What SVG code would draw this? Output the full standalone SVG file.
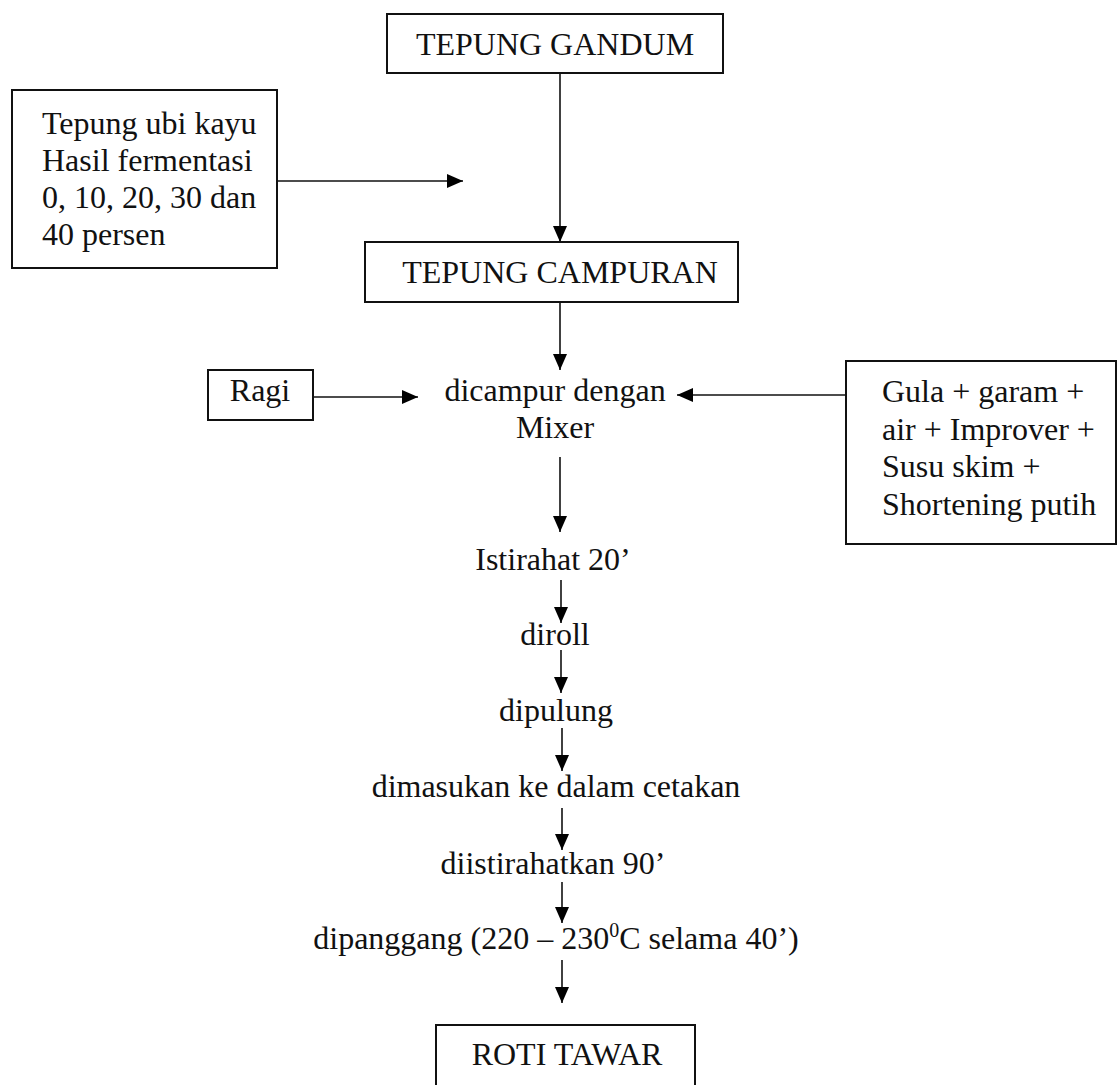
<svg xmlns="http://www.w3.org/2000/svg" width="1117" height="1085" viewBox="0 0 1117 1085">
<defs>
<marker id="ah" markerWidth="16" markerHeight="14" refX="16" refY="7" orient="auto" markerUnits="userSpaceOnUse" viewBox="0 0 16 14">
<path d="M0,0 L16,7 L0,14 z" fill="#000"/>
</marker>
<style>
text{font-size:32px;fill:#111}
.c{text-anchor:middle}
.box{fill:#fff;stroke:#111;stroke-width:2}
.ln{stroke:#111;stroke-width:1.6;fill:none}
</style>
</defs>
<rect width="1117" height="1085" fill="#fff"/>
<g id="connectors">
<line class="ln" x1="560" y1="73" x2="560" y2="242" marker-end="url(#ah)"/>
<line class="ln" x1="277" y1="181" x2="463" y2="181" marker-end="url(#ah)"/>
<line class="ln" x1="560" y1="302" x2="560" y2="370" marker-end="url(#ah)"/>
<line class="ln" x1="313" y1="397" x2="418" y2="397" marker-end="url(#ah)"/>
<line class="ln" x1="846" y1="395" x2="677" y2="395" marker-end="url(#ah)"/>
<line class="ln" x1="560" y1="457" x2="560" y2="532" marker-end="url(#ah)"/>
<line class="ln" x1="561" y1="580" x2="561" y2="623" marker-end="url(#ah)"/>
<line class="ln" x1="561" y1="650" x2="561" y2="693" marker-end="url(#ah)"/>
<line class="ln" x1="562" y1="728" x2="562" y2="771" marker-end="url(#ah)"/>
<line class="ln" x1="562" y1="808" x2="562" y2="850" marker-end="url(#ah)"/>
<line class="ln" x1="562" y1="882" x2="562" y2="923" marker-end="url(#ah)"/>
<line class="ln" x1="562" y1="960" x2="562" y2="1003" marker-end="url(#ah)"/>
</g>
<g font-family="'Liberation Serif', 'Times New Roman', Tinos, 'DejaVu Serif', serif">
<g id="tepung-gandum">
<rect class="box" x="387" y="14" width="336" height="59"/>
<text class="c" x="555" y="55">TEPUNG GANDUM</text>
</g>
<g id="tepung-ubi-kayu">
<rect class="box" x="12" y="90" width="265" height="178"/>
<text x="42" y="134">Tepung ubi kayu</text>
<text x="42" y="171">Hasil fermentasi</text>
<text x="42" y="208">0, 10, 20, 30 dan</text>
<text x="42" y="245">40 persen</text>
</g>
<g id="tepung-campuran">
<rect class="box" x="365" y="242" width="373" height="60"/>
<text class="c" x="560" y="283">TEPUNG CAMPURAN</text>
</g>
<g id="ragi">
<rect class="box" x="208" y="370" width="105" height="50"/>
<text class="c" x="260" y="401">Ragi</text>
</g>
<g id="dicampur">
<text class="c" x="555" y="401">dicampur dengan</text>
<text class="c" x="555" y="438">Mixer</text>
</g>
<g id="bahan">
<rect class="box" x="846" y="361" width="270" height="183"/>
<text x="882" y="402">Gula + garam +</text>
<text x="882" y="440">air + Improver +</text>
<text x="882" y="477">Susu skim +</text>
<text x="882" y="515">Shortening putih</text>
</g>
<g id="istirahat"><text class="c" x="553" y="570">Istirahat 20’</text></g>
<g id="diroll"><text class="c" x="555" y="645">diroll</text></g>
<g id="dipulung"><text class="c" x="556" y="721">dipulung</text></g>
<g id="dimasukan"><text class="c" x="556" y="797">dimasukan ke dalam cetakan</text></g>
<g id="diistirahatkan"><text class="c" x="553" y="874">diistirahatkan 90’</text></g>
<g id="dipanggang"><text class="c" x="556" y="949">dipanggang (220 – 230<tspan font-size="20" dy="-12">0</tspan><tspan dy="12">C selama 40’)</tspan></text></g>
<g id="roti-tawar">
<rect class="box" x="436" y="1025" width="259" height="80"/>
<text class="c" x="567" y="1065">ROTI TAWAR</text>
</g>
</g>
</svg>
